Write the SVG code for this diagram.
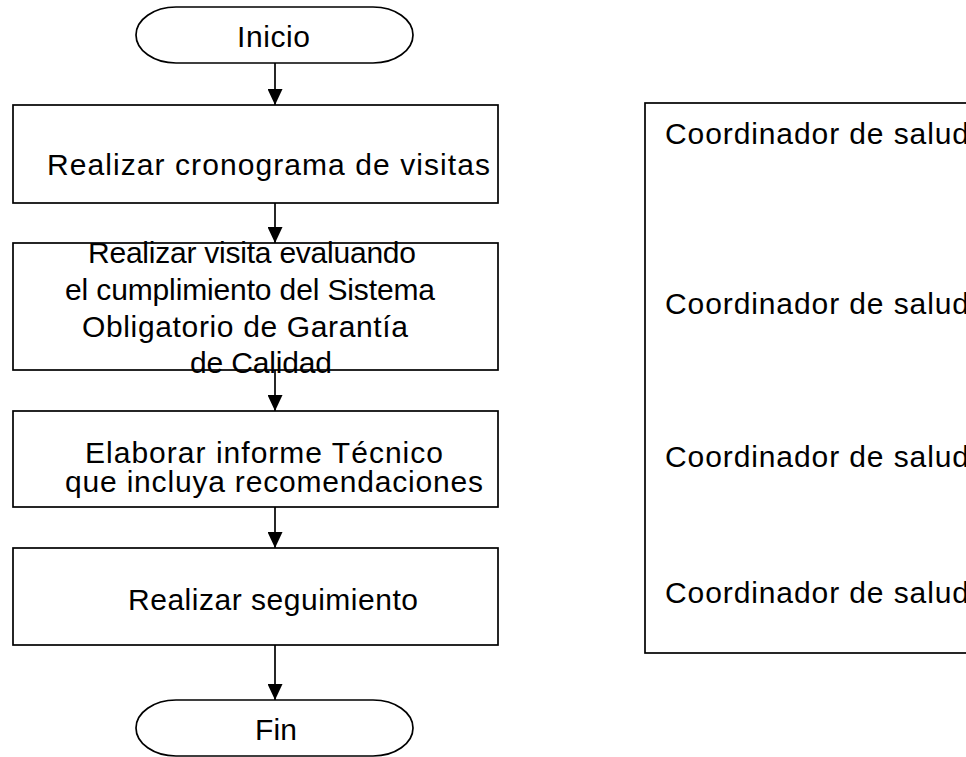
<svg xmlns="http://www.w3.org/2000/svg" width="966" height="757" viewBox="0 0 966 757">
<style>
.s{fill:#fff;stroke:#000;stroke-width:1.7}
.t{font-family:"Liberation Sans",Arial,sans-serif;font-size:30px;fill:#000}
.c{stroke:#000;stroke-width:1.7;fill:none}
</style>
<defs>
<marker id="ah" markerUnits="userSpaceOnUse" markerWidth="16" markerHeight="15" refX="16" refY="7.5" orient="auto">
<path d="M0,0 L16,7.5 L0,15 Z" fill="#000"/>
</marker>
</defs>
<rect width="966" height="757" fill="#fff"/>
<g id="connectors">
<line class="c" x1="275" y1="63" x2="275" y2="105" marker-end="url(#ah)"/>
<line class="c" x1="275" y1="203" x2="275" y2="243" marker-end="url(#ah)"/>
<line class="c" x1="275" y1="370" x2="275" y2="411" marker-end="url(#ah)"/>
<line class="c" x1="275" y1="507" x2="275" y2="548" marker-end="url(#ah)"/>
<line class="c" x1="275" y1="645" x2="275" y2="700" marker-end="url(#ah)"/>
</g>
<g id="inicio">
<rect class="s" x="136" y="7" width="277" height="56" rx="40" ry="28"/>
<text class="t" x="237" y="47" textLength="73" lengthAdjust="spacing">Inicio</text>
</g>
<g id="cronograma">
<rect class="s" x="13" y="105" width="485" height="98"/>
<text class="t" x="47" y="175" textLength="443" lengthAdjust="spacing">Realizar cronograma de visitas</text>
</g>
<g id="visita">
<rect class="s" x="13" y="243" width="485" height="127"/>
<text class="t" x="88" y="263" textLength="328" lengthAdjust="spacing">Realizar visita evaluando</text>
<text class="t" x="65" y="300" textLength="370" lengthAdjust="spacing">el cumplimiento del Sistema</text>
<text class="t" x="82" y="337" textLength="326" lengthAdjust="spacing">Obligatorio de Garantía</text>
<text class="t" x="190" y="373" textLength="142" lengthAdjust="spacing">de Calidad</text>
</g>
<g id="informe">
<rect class="s" x="13" y="411" width="485" height="96"/>
<text class="t" x="85" y="463" textLength="358" lengthAdjust="spacing">Elaborar informe Técnico</text>
<text class="t" x="65" y="492" textLength="418" lengthAdjust="spacing">que incluya recomendaciones</text>
</g>
<g id="seguimiento">
<rect class="s" x="13" y="548" width="485" height="97"/>
<text class="t" x="128" y="610" textLength="290" lengthAdjust="spacing">Realizar seguimiento</text>
</g>
<g id="fin">
<rect class="s" x="136" y="700" width="277" height="56" rx="40" ry="28"/>
<text class="t" x="255" y="740" textLength="42" lengthAdjust="spacing">Fin</text>
</g>
<g id="responsables">
<rect class="s" x="645" y="103" width="400" height="550"/>
<text class="t" x="665" y="144" textLength="304" lengthAdjust="spacing">Coordinador de salud</text>
<text class="t" x="665" y="314" textLength="304" lengthAdjust="spacing">Coordinador de salud</text>
<text class="t" x="665" y="467" textLength="304" lengthAdjust="spacing">Coordinador de salud</text>
<text class="t" x="665" y="603" textLength="304" lengthAdjust="spacing">Coordinador de salud</text>
</g>
</svg>
